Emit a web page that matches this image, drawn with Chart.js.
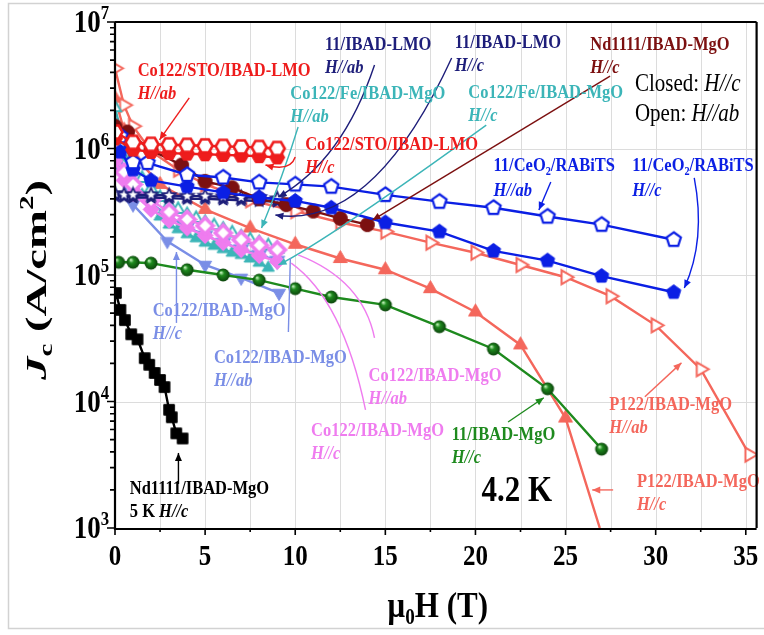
<!DOCTYPE html>
<html>
<head>
<meta charset="utf-8">
<script src="https://cdn.jsdelivr.net/npm/chart.js@4/dist/chart.umd.min.js"></script>
<style>
  html, body { margin: 0; padding: 0; background: #fff; }
  #wrap { width: 764px; height: 635px; }
</style>
</head>
<body>
<div id="wrap"><canvas id="jcChart" width="764" height="635"></canvas></div>
<script>
// ---- data (field in T, Jc in A/cm2) ----
// Co122/STO/IBAD-LMO
const stoAbH  = [0, 1, 2, 3, 4, 5, 6, 7, 8, 9];
const stoAbJc = [1.35e6, 1.12e6, 1.08e6, 1.07e6, 1.06e6, 1.05e6, 1.04e6, 1.03e6, 1.02e6, 1.0e6];
const stoCH   = [0, 1, 2, 3, 4, 5, 6, 7, 8, 9];
const stoCJc  = [1.2e6, 9.8e5, 9.4e5, 9.2e5, 9.1e5, 9.0e5, 8.9e5, 8.8e5, 8.7e5, 8.5e5];
// 11/CeO2/RABiTS
const ceAbH  = [0.3, 1, 1.8, 4, 6, 8, 10, 12, 15, 18, 21, 24, 27, 31];
const ceAbJc = [1.25e6, 7.8e5, 7.7e5, 6.2e5, 5.9e5, 5.4e5, 5.2e5, 5.0e5, 4.3e5, 3.8e5, 3.4e5, 2.9e5, 2.5e5, 1.9e5];
const ceCH   = [0.3, 1, 2, 4, 6, 8, 10, 12, 15, 18, 21, 24, 27, 31];
const ceCJc  = [9.4e5, 6.8e5, 5.6e5, 5.0e5, 4.5e5, 4.1e5, 3.85e5, 3.4e5, 2.6e5, 2.2e5, 1.55e5, 1.3e5, 9.8e4, 7.3e4];
// Nd1111/IBAD-MgO 4.2 K
const ndH  = [0, 0.7, 2, 3.7, 5, 6.5, 8, 9.5, 11, 12.5, 14];
const ndJc = [1.5e6, 1.35e6, 9.7e5, 7.4e5, 5.5e5, 4.9e5, 4.0e5, 3.6e5, 3.2e5, 2.8e5, 2.5e5];
// 11/IBAD-MgO
const gH  = [0.2, 1, 2, 4, 6, 8, 10, 12, 15, 18, 21, 24, 27];
const gJc = [1.26e5, 1.26e5, 1.24e5, 1.1e5, 1.0e5, 9.1e4, 7.8e4, 6.7e4, 5.8e4, 3.9e4, 2.6e4, 1.26e4, 4.2e3];
// Nd1111/IBAD-MgO 5 K
const nd5H  = [0.05, 0.3, 0.55, 0.9, 1.25, 1.65, 1.9, 2.2, 2.5, 2.75, 3.0, 3.15, 3.4, 3.75];
const nd5Jc = [7.2e4, 5.3e4, 4.4e4, 3.4e4, 3.1e4, 2.2e4, 1.95e4, 1.68e4, 1.48e4, 1.3e4, 8.6e3, 7.5e3, 5.6e3, 5.1e3];
// 11/IBAD-LMO
const lmoH    = [0, 0.5, 1, 2, 3, 4, 5, 6, 7, 8, 9];
const lmoAbJc = [4.4e5, 4.3e5, 4.3e5, 4.3e5, 4.25e5, 4.2e5, 4.2e5, 4.15e5, 4.1e5, 4.1e5, 4.0e5];
const lmoCJc  = [4.2e5, 4.15e5, 4.1e5, 4.1e5, 4.05e5, 4.0e5, 4.0e5, 3.95e5, 3.9e5, 3.85e5, 3.8e5];
// Co122/IBAD-MgO (pink)
const pkH    = [0, 0.5, 1, 2, 3, 4, 5, 6, 7, 8, 9];
const pkAbJc = [9e5, 6.5e5, 5.2e5, 3.9e5, 3.15e5, 2.75e5, 2.45e5, 2.15e5, 1.9e5, 1.72e5, 1.58e5];
const pkCJc  = [8e5, 5.6e5, 4.4e5, 3.3e5, 2.7e5, 2.35e5, 2.05e5, 1.8e5, 1.58e5, 1.42e5, 1.28e5];
// Co122/Fe/IBAD-MgO
const feAbH  = [0, 0.5, 1, 1.5, 2, 2.5, 3, 3.5, 4, 4.5, 5, 5.5, 6, 6.5, 7, 7.5, 8, 8.5, 9];
const feAbJc = [2.1e6, 1.1e6, 7.5e5, 5.8e5, 4.8e5, 4.1e5, 3.6e5, 3.3e5, 3.0e5, 2.8e5, 2.6e5, 2.45e5, 2.3e5, 2.15e5, 2.0e5, 1.9e5, 1.8e5, 1.7e5, 1.6e5];
const feCH   = [0, 0.5, 1, 1.5, 2, 2.5, 3, 3.5, 4, 4.5, 5, 5.5, 6, 6.5, 7, 7.5, 8, 8.5];
const feCJc  = [1.6e6, 8.5e5, 5.6e5, 4.3e5, 3.5e5, 2.9e5, 2.5e5, 2.3e5, 2.1e5, 1.95e5, 1.8e5, 1.7e5, 1.6e5, 1.5e5, 1.44e5, 1.35e5, 1.25e5, 1.14e5];
// Co122/IBAD-MgO (lavender)
const cbAbH  = [0, 0.5, 1, 2, 3, 4, 5, 6, 7, 8, 9];
const cbAbJc = [1.1e6, 7e5, 5.2e5, 3.7e5, 2.9e5, 2.4e5, 2.05e5, 1.8e5, 1.6e5, 1.45e5, 1.3e5];
const cbCH   = [0, 1, 2.9, 5, 7, 9.1];
const cbCJc  = [7.5e5, 3.6e5, 1.85e5, 1.2e5, 9.5e4, 7.2e4];
// P122/IBAD-MgO
const pAbH  = [0, 0.5, 1, 2, 3.5, 5, 7.5, 10, 12.5, 15, 17.5, 20, 22.5, 25, 27.5, 30, 32.5, 35.2];
const pAbJc = [4.3e6, 2.2e6, 1.5e6, 9.5e5, 6.8e5, 5.2e5, 3.9e5, 3.2e5, 2.6e5, 2.2e5, 1.8e5, 1.5e5, 1.2e5, 9.6e4, 6.8e4, 4.0e4, 1.8e4, 3.8e3];
const pCH   = [0, 0.5, 1, 2.5, 5, 7.5, 10, 12.5, 15, 17.5, 20, 22.5, 25, 26.9];
const pCJc  = [2.5e6, 1.4e6, 9e5, 5.2e5, 3.3e5, 2.35e5, 1.75e5, 1.35e5, 1.1e5, 7.8e4, 5.1e4, 2.8e4, 7.4e3, 1.0e3];

const xTickValues = [0, 5, 10, 15, 20, 25, 30, 35];
const yDecades = [3, 4, 5, 6, 7];

// ---- colours ----
const RED = '#ee1c1c', NAVY = '#1e1e7a', TEAL = '#3cb5b8', DARKRED = '#7c1010', BLUE = '#0b1fe4',
      CORN = '#7a8ee6', PINK = '#ef7cef', GREEN = '#1e8a1e', SALMON = '#f4675c', BLACK = '#000';

const FONT = '"Liberation Serif", "Times New Roman", serif';
const SY = 1.15; // the original lettering is a little taller than wide

// ---- markers ----
function marker(shape, color, filled, d, lw) {
    const s = Math.ceil(d + 5);
    const cv = document.createElement('canvas');
    cv.width = cv.height = s;
    const g = cv.getContext('2d');
    const c = s / 2, r = d / 2;
    const poly = (n, a0) => {
        for (let k = 0; k < n; k++) {
            const a = a0 + k * 2 * Math.PI / n;
            const px = c + r * Math.cos(a), py = c + r * Math.sin(a);
            k ? g.lineTo(px, py) : g.moveTo(px, py);
        }
        g.closePath();
    };
    g.beginPath();
    if (shape === 'hex') poly(6, 0);
    else if (shape === 'pent') poly(5, -Math.PI / 2);
    else if (shape === 'triU') poly(3, -Math.PI / 2);
    else if (shape === 'triR') poly(3, 0);
    else if (shape === 'triD') poly(3, Math.PI / 2);
    else if (shape === 'diam') poly(4, -Math.PI / 2);
    else if (shape === 'square') poly(4, Math.PI / 4);
    else if (shape === 'star') {
        for (let k = 0; k < 10; k++) {
            const a = -Math.PI / 2 + k * Math.PI / 5;
            const rr = k % 2 ? r * 0.45 : r;
            k ? g.lineTo(c + rr * Math.cos(a), c + rr * Math.sin(a)) : g.moveTo(c + rr * Math.cos(a), c + rr * Math.sin(a));
        }
        g.closePath();
    } else g.arc(c, c, r, 0, Math.PI * 2);

    if (filled === 'ball') {
        const grd = g.createRadialGradient(c - r * 0.35, c - r * 0.4, r * 0.05, c, c, r);
        grd.addColorStop(0, '#c8f5c0');
        grd.addColorStop(0.35, color);
        grd.addColorStop(1, '#0b440b');
        g.fillStyle = grd;
        g.fill();
    } else {
        g.fillStyle = filled ? color : '#fff';
        g.fill();
        g.lineWidth = lw;
        g.strokeStyle = color;
        g.lineJoin = 'miter';
        g.stroke();
    }
    return cv;
}

const pts = (h, j) => h.map((v, i) => ({ x: v, y: j[i] }));

function series(label, h, j, color, style) {
    return {
        label: label,
        data: pts(h, j),
        showLine: true,
        borderColor: color,
        borderWidth: 2.4,
        pointStyle: style,
        pointRadius: 5,
        tension: 0
    };
}

// first in list is drawn on top
const datasets = [
    series('Co122/STO/IBAD-LMO H//ab', stoAbH, stoAbJc, RED, marker('hex', RED, false, 15, 2.6)),
    series('Co122/STO/IBAD-LMO H//c', stoCH, stoCJc, RED, marker('hex', RED, true, 15, 1)),
    series('11/CeO2/RABiTS H//ab', ceAbH, ceAbJc, BLUE, marker('pent', BLUE, false, 15, 2.2)),
    series('11/CeO2/RABiTS H//c', ceCH, ceCJc, BLUE, marker('pent', BLUE, true, 15, 1)),
    series('Nd1111/IBAD-MgO H//c', ndH, ndJc, DARKRED, marker('circle', DARKRED, true, 14, 1)),
    series('11/IBAD-MgO H//c', gH, gJc, GREEN, marker('circle', GREEN, 'ball', 13, 1)),
    series('Nd1111/IBAD-MgO 5 K H//c', nd5H, nd5Jc, BLACK, marker('square', BLACK, true, 15, 1)),
    series('11/IBAD-LMO H//ab', lmoH, lmoAbJc, NAVY, marker('star', NAVY, false, 14, 1.8)),
    series('11/IBAD-LMO H//c', lmoH, lmoCJc, NAVY, marker('star', NAVY, true, 14, 1)),
    series('Co122/IBAD-MgO H//ab (pink)', pkH, pkAbJc, PINK, marker('diam', PINK, false, 16, 3.6)),
    series('Co122/IBAD-MgO H//c (pink)', pkH, pkCJc, PINK, marker('diam', PINK, true, 16, 1)),
    series('Co122/Fe/IBAD-MgO H//ab', feAbH, feAbJc, TEAL, marker('triU', TEAL, false, 14, 2)),
    series('Co122/Fe/IBAD-MgO H//c', feCH, feCJc, TEAL, marker('triU', TEAL, true, 14, 1)),
    series('Co122/IBAD-MgO H//ab', cbAbH, cbAbJc, CORN, marker('triD', CORN, false, 15, 2)),
    series('Co122/IBAD-MgO H//c', cbCH, cbCJc, CORN, marker('triD', CORN, true, 15, 1)),
    series('P122/IBAD-MgO H//ab', pAbH, pAbJc, SALMON, marker('triR', SALMON, false, 16, 2)),
    series('P122/IBAD-MgO H//c', pCH, pCJc, SALMON, marker('triU', SALMON, true, 16, 1))
];
// the H//c P122 line runs out of the bottom of the frame without a marker
datasets[datasets.length - 1].pointRadius = ctx => ctx.dataIndex === pCH.length - 1 ? 0 : 5;

// ---- annotations (positions in data units) ----
const arrows = [
    { c: RED, p: [[4.12, 2.51e6], [2.47, 1.17e6]] },
    { c: NAVY, p: [[14.4, 4.57e6], [12.64, 8.1e5], [9.07, 4.14e5]] },
    { c: NAVY, p: [[18.68, 5.19e6], [14.29, 2.27e5], [8.9, 2.98e5]] },
    { c: TEAL, p: [[10.16, 1.48e6], [9.34, 6.17e5], [8.13, 2.35e5]] },
    { c: TEAL, p: [[20.6, 1.53e6], [11.81, 1.89e5], [9.07, 1.2e5]] },
    { c: RED, p: [[10.0, 8.57e5], [9.73, 6.52e5], [8.35, 7.41e5]] },
    { c: DARKRED, p: [[27.47, 3.74e6], [14.29, 2.72e5]] },
    { c: BLUE, p: [[24.18, 5.43e5], [23.52, 3.26e5]] },
    { c: BLUE, p: [[32.14, 5.85e5], [32.8, 1.89e5], [31.59, 7.89e4]] },
    { c: CORN, p: [[3.41, 4.18e4], [3.41, 1.52e5]] },
    { c: CORN, p: [[9.62, 3.54e4], [9.73, 1.36e5]], noHead: true },
    { c: PINK, p: [[14.4, 3.18e4], [13.74, 9.13e4], [10.16, 1.44e5]], noHead: true },
    { c: PINK, p: [[13.9, 8.57e3], [12.64, 6.35e4], [9.78, 1.24e5]], noHead: true },
    { c: GREEN, p: [[21.81, 6.88e3], [23.79, 1.07e4]] },
    { c: SALMON, p: [[29.4, 1.09e4], [31.43, 2.02e4]] },
    { c: SALMON, p: [[27.64, 2.0e3], [26.48, 2.0e3]] },
    { c: BLACK, p: [[3.52, 2.23e3], [3.52, 3.92e3]] }
];

const CO122_MGO = [['Co122/IBAD-MgO']];
const CEO2 = [['11/CeO'], ['2', 'b'], ['/RABiTS']];
const notes = [
    { t: 1.26, j: 4.18e6, c: RED, l: [[['Co122/STO/IBAD-LMO']], [['H//ab', 'i']]] },
    { t: 11.65, j: 6.7e6, c: NAVY, l: [[['11/IBAD-LMO']], [['H//ab', 'i']]] },
    { t: 18.85, j: 7.0e6, c: NAVY, l: [[['11/IBAD-LMO']], [['H//c', 'i']]] },
    { t: 26.37, j: 6.7e6, c: DARKRED, l: [[['Nd1111/IBAD-MgO']], [['H//c', 'i']]] },
    { t: 9.73, j: 2.75e6, c: TEAL, l: [[['Co122/Fe/IBAD-MgO']], [['H//ab', 'i']]] },
    { t: 19.6, j: 2.8e6, c: TEAL, l: [[['Co122/Fe/IBAD-MgO']], [['H//c', 'i']]] },
    { t: 10.55, j: 1.1e6, c: RED, l: [[['Co122/STO/IBAD-LMO']], [['H//c', 'i']]] },
    { t: 21.0, j: 7.4e5, c: BLUE, l: [CEO2, [['H//ab', 'i']]], gap: 25 },
    { t: 28.7, j: 7.4e5, c: BLUE, l: [CEO2, [['H//c', 'i']]], gap: 25 },
    { t: 2.09, j: 5.3e4, c: CORN, l: [CO122_MGO, [['H//c', 'i']]] },
    { t: 5.49, j: 2.25e4, c: CORN, l: [CO122_MGO, [['H//ab', 'i']]] },
    { t: 14.07, j: 1.62e4, c: PINK, l: [CO122_MGO, [['H//ab', 'i']]] },
    { t: 10.88, j: 5.96e3, c: PINK, l: [CO122_MGO, [['H//c', 'i']]] },
    { t: 18.68, j: 5.6e3, c: GREEN, l: [[['11/IBAD-MgO']], [['H//c', 'i']]] },
    { t: 27.42, j: 9.6e3, c: SALMON, l: [[['P122/IBAD-MgO']], [['H//ab', 'i']]] },
    { t: 28.96, j: 2.35e3, c: SALMON, l: [[['P122/IBAD-MgO']], [['H//c', 'i']]] },
    { t: 0.82, j: 2.07e3, c: BLACK, l: [[['Nd1111/IBAD-MgO']], [['5 K '], ['H//c', 'i']]] },
    { t: 28.85, j: 3.3e6, c: BLACK, size: 21, weight: 'normal', gap: 30, l: [[['Closed: '], ['H//c', 'i']], [['Open: '], ['H//ab', 'i']]] },
    { t: 20.33, j: 2.03e3, c: BLACK, size: 31, l: [[['4.2 K']]] }
];

// ---- text helpers ----
function fontStr(size, weight, italic) {
    return (italic ? 'italic ' : '') + weight + ' ' + size + 'px ' + FONT;
}
function richWidth(ctx, parts, size, weight) {
    let w = 0;
    for (const [s, f = ''] of parts) {
        const small = f.includes('b') || f.includes('p');
        ctx.font = fontStr(small ? size * 0.62 : size, weight, f.includes('i'));
        w += ctx.measureText(s).width;
    }
    return w;
}
// draws at (0,0) = left end of baseline, in the current transform
function drawRich(ctx, parts, size, weight, color, align) {
    const w = richWidth(ctx, parts, size, weight);
    let x = align === 'center' ? -w / 2 : align === 'right' ? -w : 0;
    ctx.fillStyle = color;
    ctx.textBaseline = 'alphabetic';
    ctx.textAlign = 'left';
    for (const [s, f = ''] of parts) {
        const small = f.includes('b') || f.includes('p');
        ctx.font = fontStr(small ? size * 0.62 : size, weight, f.includes('i'));
        const dy = f.includes('b') ? size * 0.2 : f.includes('p') ? -size * 0.42 : 0;
        ctx.fillText(s, x, dy);
        x += ctx.measureText(s).width;
    }
    return w;
}
// text centred vertically on y (cap height), stretched by SY
function textAt(ctx, x, y, parts, size, weight, color, align) {
    ctx.save();
    ctx.translate(x, y);
    ctx.scale(1, SY);
    ctx.translate(0, size * 0.33);
    drawRich(ctx, parts, size, weight, color, align);
    ctx.restore();
}

function arrowHead(ctx, x, y, fx, fy, len, wid) {
    const a = Math.atan2(y - fy, x - fx);
    ctx.beginPath();
    ctx.moveTo(x, y);
    ctx.lineTo(x - len * Math.cos(a) + wid * Math.sin(a), y - len * Math.sin(a) - wid * Math.cos(a));
    ctx.lineTo(x - len * Math.cos(a) - wid * Math.sin(a), y - len * Math.sin(a) + wid * Math.cos(a));
    ctx.closePath();
    ctx.fill();
}

const decor = {
    id: 'decor',
    beforeDraw(chart) {
        const { ctx, width, height } = chart;
        ctx.save();
        ctx.fillStyle = '#fff';
        ctx.fillRect(0, 0, width, height);
        ctx.strokeStyle = '#d2d2d2';
        ctx.lineWidth = 1.5;
        ctx.strokeRect(8.5, 3.5, width + 10, height - 10);
        ctx.restore();
    },
    beforeDatasetsDraw(chart) {
        const { ctx, chartArea: a, scales: { x, y } } = chart;
        ctx.save();
        ctx.strokeStyle = '#dcdcdc';
        ctx.lineWidth = 1;
        for (let v = 2.5; v <= x.max; v += 2.5) {
            const px = Math.round(x.getPixelForValue(v)) + 0.5;
            ctx.beginPath(); ctx.moveTo(px, a.top); ctx.lineTo(px, a.bottom); ctx.stroke();
        }
        for (const d of yDecades.slice(1, -1)) {
            const py = Math.round(y.getPixelForValue(Math.pow(10, d))) + 0.5;
            ctx.beginPath(); ctx.moveTo(a.left, py); ctx.lineTo(a.right, py); ctx.stroke();
        }
        ctx.restore();
    },
    afterDatasetsDraw(chart) {
        const { ctx, chartArea: a, scales: { x, y } } = chart;
        ctx.save();

        // arrows
        for (const ar of arrows) {
            const p = ar.p.map(q => [x.getPixelForValue(q[0]), y.getPixelForValue(q[1])]);
            ctx.strokeStyle = ar.c;
            ctx.fillStyle = ar.c;
            ctx.lineWidth = 1.4;
            ctx.beginPath();
            ctx.moveTo(p[0][0], p[0][1]);
            if (p.length === 3) ctx.quadraticCurveTo(p[1][0], p[1][1], p[2][0], p[2][1]);
            else ctx.lineTo(p[1][0], p[1][1]);
            ctx.stroke();
            if (!ar.noHead) {
                const e = p[p.length - 1], f = p[p.length - 2];
                arrowHead(ctx, e[0], e[1], f[0], f[1], 8, 3.5);
            }
        }

        // labels
        for (const n of notes) {
            const size = n.size || 16.5;
            const weight = n.weight || 'bold';
            const gap = n.gap || 23;
            const px = x.getPixelForValue(n.t), py = y.getPixelForValue(n.j);
            n.l.forEach((line, i) => textAt(ctx, px, py + i * gap, line, size, weight, n.c, 'left'));
        }

        // frame
        ctx.strokeStyle = '#000';
        ctx.lineWidth = 2.2;
        ctx.beginPath();
        ctx.moveTo(a.left, a.top); ctx.lineTo(a.right, a.top);
        ctx.moveTo(a.left, a.top); ctx.lineTo(a.left, a.bottom + 1); ctx.lineTo(a.right, a.bottom + 1);
        ctx.moveTo(a.right, a.top); ctx.lineTo(a.right, a.bottom);
        ctx.stroke();

        // ticks
        ctx.lineWidth = 1.6;
        ctx.beginPath();
        for (let d = yDecades[0]; d <= yDecades[yDecades.length - 1]; d++) {
            for (let m = 1; m <= 9; m++) {
                const v = m * Math.pow(10, d);
                if (v > y.max) break;
                const py = y.getPixelForValue(v);
                const len = m === 1 ? 8 : 5;
                ctx.moveTo(a.left - len, py); ctx.lineTo(a.left, py);
            }
        }
        for (let v = 0; v <= x.max; v += 2.5) {
            const px = x.getPixelForValue(v);
            const len = v % 5 === 0 ? 7 : 4;
            ctx.moveTo(px, a.bottom); ctx.lineTo(px, a.bottom + len);
        }
        ctx.stroke();

        // tick labels
        for (const v of xTickValues) {
            textAt(ctx, x.getPixelForValue(v), a.bottom + 28, [[String(v)]], 25, 'bold', '#000', 'center');
        }
        for (const d of yDecades) {
            textAt(ctx, a.left - 6, y.getPixelForValue(Math.pow(10, d)), [['10'], [String(d), 'p']], 27, 'bold', '#000', 'right');
        }

        // axis titles
        textAt(ctx, (a.left + a.right) / 2 + 2, 605, [['\u03bc'], ['0', 'b'], ['H (T)']], 31, 'bold', '#000', 'center');

        const yt = [['J', 'i'], ['c', 'b'], [' (A/cm'], ['2', 'p'], [')']];
        ctx.save();
        ctx.translate(36, 280);
        ctx.rotate(-Math.PI / 2);
        const w = richWidth(ctx, yt, 30, 'bold');
        ctx.scale(200 / w, 1);
        ctx.translate(0, 30 * 0.33);
        drawRich(ctx, yt, 30, 'bold', '#000', 'center');
        ctx.restore();

        ctx.restore();
    }
};

new Chart(document.getElementById('jcChart').getContext('2d'), {
    type: 'scatter',
    data: { datasets: datasets },
    options: {
        responsive: false,
        animation: false,
        devicePixelRatio: 1,
        layout: { padding: { left: 115, top: 22, right: 1, bottom: 107 } },
        plugins: { legend: { display: false }, tooltip: { enabled: false } },
        scales: {
            x: { type: 'linear', min: 0, max: 35.6, display: false },
            y: { type: 'logarithmic', min: 1e3, max: 1e7, display: false }
        }
    },
    plugins: [decor]
});
</script>
</body>
</html>
